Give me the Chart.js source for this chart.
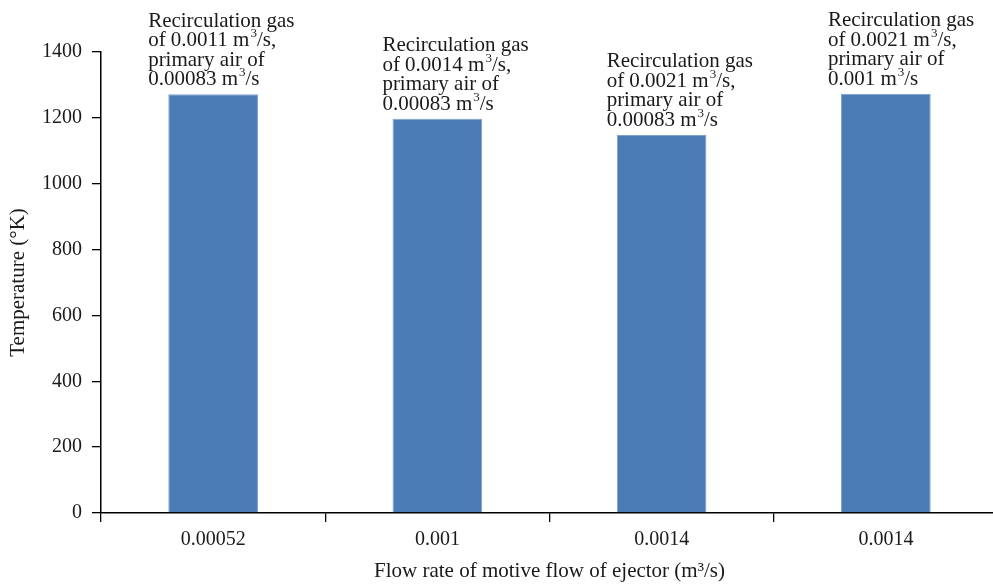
<!DOCTYPE html>
<html>
<head>
<meta charset="utf-8">
<script src="https://cdn.jsdelivr.net/npm/chart.js@4/dist/chart.umd.min.js"></script>
<style>
  html, body { margin: 0; padding: 0; background: #fff; overflow: hidden; }
  #wrap { width: 993px; height: 586px; overflow: hidden; }
</style>
</head>
<body>
<div id="wrap"><canvas id="canvas" width="1000" height="586"></canvas></div>
<script>
const canvas = document.getElementById('canvas');
const ctx = canvas.getContext('2d');

// flow rate of motive flow (category labels)
const flowRates = ['0.00052', '0.001', '0.0014', '0.0014'];
// temperature in K
const temperatures = [1272, 1197, 1148, 1273];
const yTicks = [0, 200, 400, 600, 800, 1000, 1200, 1400];

// annotation above each bar, '^' marks a superscript char
const barNotes = [
  ['Recirculation gas', 'of 0.0011 m^3/s,', 'primary air of', '0.00083 m^3/s'],
  ['Recirculation gas', 'of 0.0014 m^3/s,', 'primary air of', '0.00083 m^3/s'],
  ['Recirculation gas', 'of 0.0021 m^3/s,', 'primary air of', '0.00083 m^3/s'],
  ['Recirculation gas', 'of 0.0021 m^3/s,', 'primary air of', '0.001 m^3/s'],
];

const SERIF = "'Liberation Serif', 'DejaVu Serif', serif";

const drawRich = (c, text, x, y, size) => {
  let cx = x;
  for (let i = 0; i < text.length; i++) {
    if (text[i] === '^') {
      c.font = `${Math.round(size * 0.62)}px ${SERIF}`;
      c.fillText(text[i + 1], cx + 1, y - size * 0.42);
      cx += c.measureText(text[i + 1]).width + 1;
      i++;
    } else {
      let j = text.indexOf('^', i);
      if (j < 0) j = text.length;
      const part = text.slice(i, j);
      c.font = `${size}px ${SERIF}`;
      c.fillText(part, cx, y);
      cx += c.measureText(part).width;
      i = j - 1;
    }
  }
};

// small horizontal nudge of each note, as in the original figure
const noteShift = [-65, -55, -55, -58];

const notesPlugin = {
  id: 'notes',
  afterDatasetsDraw(chart) {
    const c = chart.ctx;
    const meta = chart.getDatasetMeta(0);
    c.save();
    c.fillStyle = '#1a1a1a';
    c.textBaseline = 'alphabetic';
    c.textAlign = 'left';
    meta.data.forEach((bar, i) => {
      const lines = barNotes[i];
      const lh = 19.5;
      const last = bar.y - 9;
      lines.forEach((line, k) => {
        const y = last - (lines.length - 1 - k) * lh;
        drawRich(c, line, bar.x + noteShift[i], y, 21);
      });
    });
    c.restore();
  },
};

Chart.defaults.font.family = SERIF;
Chart.defaults.color = '#1a1a1a';

const myChart = new Chart(ctx, {
  type: 'bar',
  data: {
    labels: flowRates,
    datasets: [
      {
        data: temperatures,
        backgroundColor: '#4b7bb5',
        borderColor: '#7da2cf',
        borderWidth: { left: 1, right: 1, top: 1, bottom: 0 },
        barPercentage: 0.4,
        categoryPercentage: 1.0,
      },
    ],
  },
  options: {
    responsive: false,
    animation: false,
    devicePixelRatio: 1,
    layout: { padding: { top: 52, right: 2, left: 0, bottom: 0 } },
    plugins: {
      legend: { display: false },
      tooltip: { enabled: false },
    },
    scales: {
      x: {
        offset: true,
        grid: {
          offset: true,
          drawOnChartArea: false,
          tickLength: 9,
          color: '#000',
          lineWidth: 1.3,
        },
        border: { display: true, color: '#000', width: 1.5 },
        ticks: { font: { size: 20 }, padding: 6, color: '#1a1a1a' },
        title: {
          display: true,
          text: 'Flow rate of motive flow of ejector (m³/s)',
          font: { size: 21 },
          padding: { top: 0, bottom: 2 },
          color: '#1a1a1a',
        },
        afterFit: (s) => { s.height = 73; },
      },
      y: {
        min: 0,
        max: 1400,
        afterBuildTicks: (s) => { s.ticks = yTicks.map((v) => ({ value: v })); },
        grid: {
          drawOnChartArea: false,
          tickLength: 9,
          color: '#000',
          lineWidth: 1.3,
        },
        border: { display: true, color: '#000', width: 1.5 },
        ticks: {
          font: { size: 20 },
          padding: 10,
          color: '#1a1a1a',
          callback: (v) => String(v),
        },
        title: {
          display: true,
          text: 'Temperature (°K)',
          font: { size: 21 },
          padding: { top: 6, bottom: 4 },
          color: '#1a1a1a',
        },
        afterFit: (s) => { s.width = 101; },
      },
    },
  },
  plugins: [notesPlugin],
});
</script>
</body>
</html>
